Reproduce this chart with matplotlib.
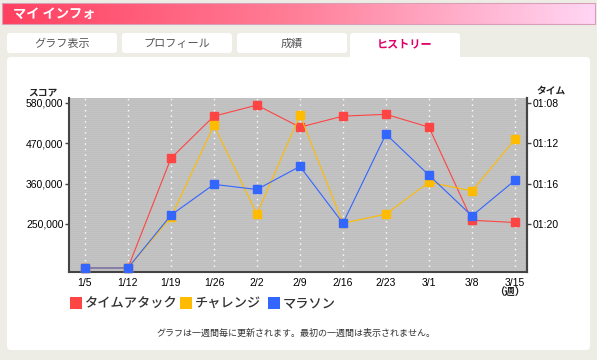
import numpy as np
import matplotlib.pyplot as plt
from matplotlib.patches import Rectangle, FancyBboxPatch
from matplotlib.colors import LinearSegmentedColormap

plt.rcParams['font.family'] = ['Noto Sans CJK JP', 'DejaVu Sans']

# data
weeks = ['1/5', '1/12', '1/19', '1/26', '2/2', '2/9', '2/16', '2/23', '3/1', '3/8', '3/15']
time_attack = [130000, 130000, 429000, 544000, 574000, 514000, 544000, 549000, 514000, 260000, 254000]
challenge = [130000, 130000, 268000, 519000, 277000, 547000, 252000, 277000, 364000, 340000, 481000]
marathon = [130000, 130000, 274000, 358000, 344000, 407000, 252000, 495000, 383000, 272000, 369000]
score_ticks = [250000, 360000, 470000, 580000]
time_labels = ['01:20', '01:16', '01:12', '01:08']
series_names = ['タイムアタック', 'チャレンジ', 'マラソン']
colors = ['#ff4444', '#ffbb00', '#3366ff']
tabs = ['グラフ表示', 'プロフィール', '成績', 'ヒストリー']

W, H = 597, 360
fig = plt.figure(figsize=(W / 100, H / 100), dpi=100)
fig.patch.set_facecolor('#eeede5')

# page background drawn in pixel coordinates
bg = fig.add_axes([0, 0, 1, 1])
bg.set_xlim(0, W)
bg.set_ylim(H, 0)
bg.axis('off')

# header bar with gradient
grad = np.linspace(0, 1, 256).reshape(1, -1)
hcmap = LinearSegmentedColormap.from_list('hdr', ['#ff4060', '#ff7f98', '#ffd6f4'])
bg.imshow(grad, cmap=hcmap, extent=(2, 595, 24, 3), aspect='auto', zorder=1)
bg.add_patch(Rectangle((2, 3), 593, 21, fill=False, ec='#d8a0b8', lw=0.8, zorder=2))
bg.text(13, 14, 'マイ インフォ', color='white', fontsize=9.5, fontweight='bold', va='center', zorder=3)

# tabs
tab_x = [7, 122, 237, 350]
for i, (tx, name) in enumerate(zip(tab_x, tabs)):
    active = i == 3
    bot = 60 if active else 53
    bg.add_patch(FancyBboxPatch((tx, 33), 110, bot - 33, boxstyle='round,pad=0,rounding_size=3',
                                fc='white', ec='none', zorder=2))
    bg.text(tx + 55, 44, name, ha='center', va='center', fontsize=8,
            color='#e0006a' if active else '#555555', fontweight='bold' if active else 'normal', zorder=3)

# white panel
bg.add_patch(FancyBboxPatch((7, 57), 583, 293, boxstyle='round,pad=0,rounding_size=4',
                            fc='white', ec='none', zorder=1))

bg.text(28, 92, 'スコア', fontsize=7, fontweight='bold', va='center', color='#222222')
bg.text(536, 91, 'タイム', fontsize=7, fontweight='bold', va='center', color='#222222')
bg.text(510, 293, '（週）', fontsize=7.5, fontweight='bold', ha='center', va='center', color='#222222')

# legend
leg_x = [70, 180, 268]
for lx, name, c in zip(leg_x, series_names, colors):
    bg.add_patch(Rectangle((lx, 297), 12, 12, fc=c, ec='none', zorder=2))
    bg.text(lx + 15, 303, name, fontsize=9.5, fontweight='medium', va='center', color='#333333')

bg.text(296, 333, 'グラフは一週間毎に更新されます。最初の一週間は表示されません。',
        fontsize=6.5, ha='center', va='center', color='#333333')

# chart
x0, x1, y0, y1 = 69, 527, 98, 272
ax = fig.add_axes([x0 / W, 1 - y1 / H, (x1 - x0) / W, (y1 - y0) / H])
ax.set_facecolor('#bfbfbf')
idx = np.arange(len(weeks))
ax.set_xlim(-0.37, len(weeks) - 1 + 0.28)
ax.set_ylim(119000, 593500)

# faint horizontal stripes
for yy in np.arange(119000, 593500, 5500):
    ax.axhline(yy, color='#c5c5c5', lw=0.5, zorder=0)
for xx in idx:
    ax.axvline(xx, color='white', lw=1, ls=(0, (1, 3)), zorder=1)

for vals, c in zip([time_attack, challenge, marathon], colors):
    ax.plot(idx, vals, color=c, lw=0.8, marker='s', ms=5.2, mec=c, mfc=c, zorder=3, clip_on=False)

ax.set_xticks(idx)
ax.set_xticklabels(weeks, fontsize=7.5, family='Liberation Sans')
ax.tick_params(axis='x', length=0, pad=4)
ax.set_yticks(score_ticks)
ax.set_yticklabels(['{:,}'.format(v) for v in score_ticks], fontsize=7.5, family='Liberation Sans')
ax.tick_params(axis='y', length=3, width=1, color='#444444', pad=1)

for s in ['left', 'bottom', 'right']:
    ax.spines[s].set_color('#444444')
    ax.spines[s].set_linewidth(1.5)
ax.spines['top'].set_visible(False)

ax2 = ax.twinx()
ax2.set_ylim(ax.get_ylim())
ax2.set_yticks(score_ticks)
ax2.set_yticklabels(time_labels, fontsize=7.5, family='Liberation Sans')
ax2.tick_params(axis='y', length=3, width=1, color='#444444', pad=1)
for s in ['left', 'bottom', 'top']:
    ax2.spines[s].set_visible(False)
ax2.spines['right'].set_color('#444444')
ax2.spines['right'].set_linewidth(1.5)

fig.savefig('out.png', dpi=100, facecolor=fig.get_facecolor())
